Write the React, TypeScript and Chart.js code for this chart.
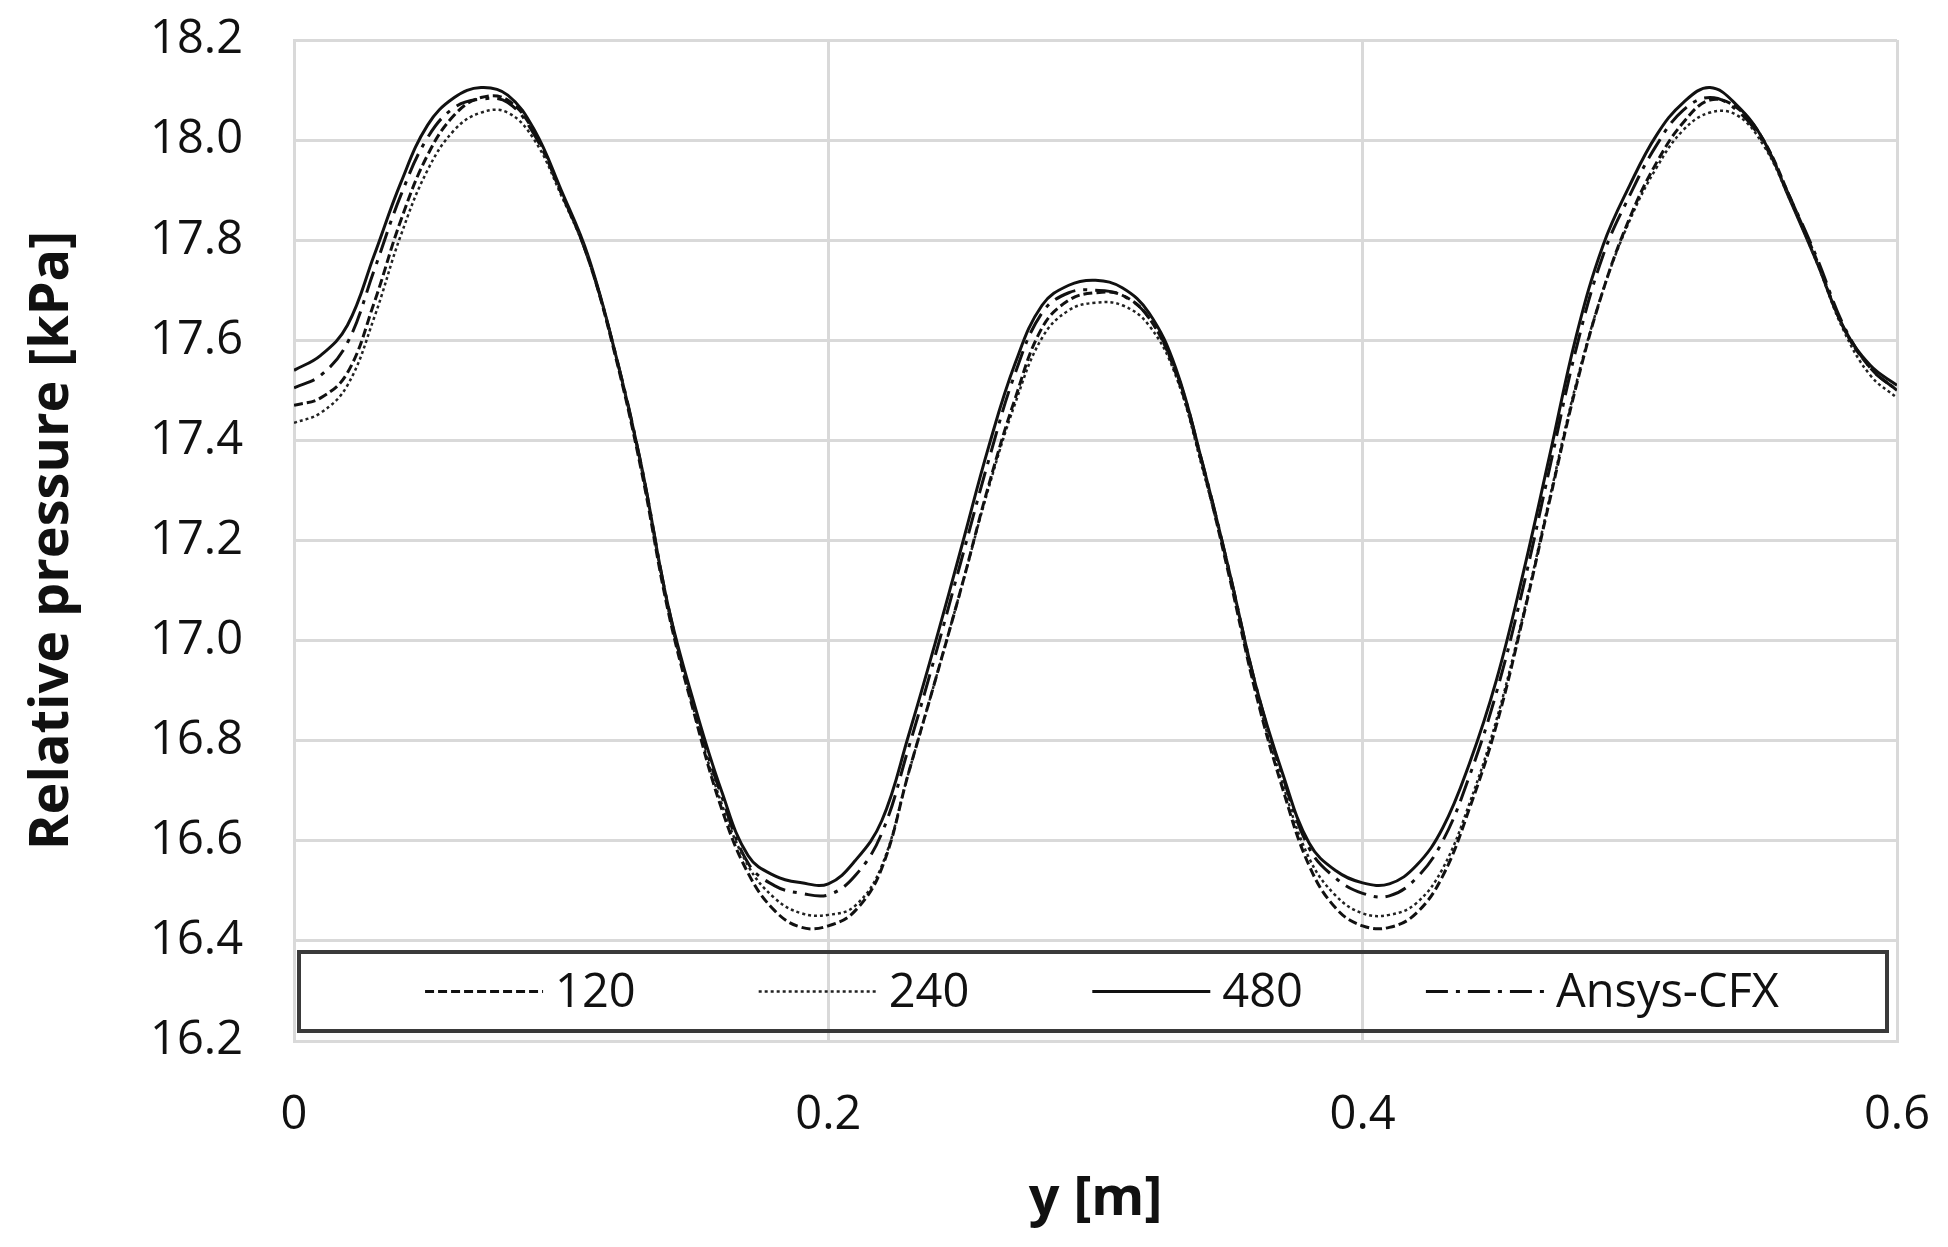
import React, { useEffect, useRef } from "react";
import { Chart, registerables } from "chart.js";

Chart.register(...registerables);

// position along the channel, y [m]
const positionY = [
	0.0, 0.01, 0.02, 0.03, 0.04, 0.05, 0.06, 0.07, 0.08, 0.09,
	0.1, 0.11, 0.12, 0.13, 0.14, 0.15, 0.16, 0.17, 0.18, 0.19,
	0.2, 0.21, 0.22, 0.23, 0.24, 0.25, 0.26, 0.27, 0.28, 0.29,
	0.3, 0.31, 0.32, 0.33, 0.34, 0.35, 0.36, 0.37, 0.38, 0.39,
	0.4, 0.41, 0.42, 0.43, 0.44, 0.45, 0.46, 0.47, 0.48, 0.49,
	0.5, 0.51, 0.52, 0.53, 0.54, 0.55, 0.56, 0.57, 0.58, 0.59,
	0.6,
];

// relative pressure [kPa] per mesh
const mesh120 = [
	17.47, 17.485, 17.535, 17.675, 17.84, 17.97, 18.05, 18.085, 18.08, 18.015,
	17.895, 17.765, 17.575, 17.34, 17.06, 16.85, 16.665, 16.535, 16.46, 16.427,
	16.43, 16.46, 16.545, 16.735, 16.92, 17.11, 17.31, 17.485, 17.625, 17.68,
	17.695, 17.69, 17.645, 17.535, 17.35, 17.13, 16.895, 16.705, 16.55, 16.465,
	16.43, 16.427, 16.455, 16.53, 16.665, 16.83, 17.045, 17.28, 17.51, 17.7,
	17.845, 17.955, 18.035, 18.08, 18.065, 18.0, 17.885, 17.76, 17.625, 17.545,
	17.5,
];

const mesh240 = [
	17.435, 17.455, 17.51, 17.645, 17.81, 17.94, 18.02, 18.055, 18.055, 18.0,
	17.89, 17.765, 17.58, 17.345, 17.065, 16.855, 16.675, 16.55, 16.485, 16.455,
	16.452, 16.47, 16.55, 16.735, 16.92, 17.11, 17.305, 17.475, 17.605, 17.66,
	17.675, 17.67, 17.63, 17.53, 17.345, 17.135, 16.9, 16.715, 16.565, 16.49,
	16.455, 16.452, 16.475, 16.545, 16.675, 16.84, 17.05, 17.285, 17.515, 17.7,
	17.84, 17.945, 18.02, 18.055, 18.05, 17.99, 17.88, 17.755, 17.62, 17.53,
	17.485,
];

const mesh480 = [
	17.54, 17.57, 17.63, 17.77, 17.915, 18.03, 18.085, 18.105, 18.09, 18.02,
	17.9, 17.77, 17.58, 17.35, 17.07, 16.87, 16.7, 16.57, 16.53, 16.516,
	16.514, 16.56, 16.64, 16.81, 16.995, 17.19, 17.387, 17.555, 17.67, 17.71,
	17.72, 17.705, 17.655, 17.545, 17.355, 17.14, 16.91, 16.735, 16.595, 16.54,
	16.516, 16.514, 16.55, 16.626, 16.755, 16.92, 17.133, 17.37, 17.61, 17.79,
	17.91, 18.01, 18.075, 18.105, 18.07, 18.0, 17.88, 17.756, 17.626, 17.55,
	17.51,
];

const ansysCfx = [
	17.505, 17.53, 17.595, 17.74, 17.89, 18.005, 18.065, 18.082, 18.075, 18.01,
	17.895, 17.765, 17.58, 17.35, 17.07, 16.86, 16.69, 16.555, 16.51, 16.495,
	16.492, 16.53, 16.615, 16.785, 16.97, 17.165, 17.36, 17.535, 17.655, 17.695,
	17.7, 17.69, 17.645, 17.54, 17.355, 17.14, 16.91, 16.73, 16.585, 16.525,
	16.495, 16.49, 16.525, 16.6, 16.73, 16.895, 17.105, 17.345, 17.585, 17.77,
	17.89, 17.99, 18.06, 18.085, 18.06, 17.995, 17.885, 17.765, 17.63, 17.545,
	17.5,
];

const seriesLabels = ["120", "240", "480", "Ansys-CFX"];
const yTicks = { min: 16.2, max: 18.2, step: 0.2 };
const xTicks = { min: 0, max: 0.6, step: 0.2 };

const FONT = "'Open Sans', 'DejaVu Sans', sans-serif";

const toPoints = (values: number[]) =>
	values.map((v, i) => ({ x: positionY[i], y: v }));

// Excel-style legend box sitting inside the bottom of the plot area
const legendBoxPlugin = {
	id: "legendBox",
	afterDraw(chart: any) {
		const { ctx, chartArea } = chart;
		const left = chartArea.left + 5;
		const right = chartArea.right - 10;
		const top = chartArea.bottom - 89;
		const bottom = chartArea.bottom - 10;

		ctx.save();
		ctx.strokeStyle = "#3a3a3a";
		ctx.lineWidth = 4;
		ctx.setLineDash([]);
		ctx.strokeRect(left, top, right - left, bottom - top);

		ctx.font = `47px ${FONT}`;
		const sample = 118;
		const gap = 12;
		const itemGap = 123;
		const datasets = chart.data.datasets;
		const widths = datasets.map(
			(ds: any) => sample + gap + ctx.measureText(ds.label).width
		);
		const total =
			widths.reduce((a: number, b: number) => a + b, 0) +
			itemGap * (datasets.length - 1);
		let x = (left + right) / 2 + 9 - total / 2;
		const y = (top + bottom) / 2;

		datasets.forEach((ds: any, i: number) => {
			ctx.beginPath();
			ctx.setLineDash(ds.borderDash || []);
			ctx.lineWidth = ds.borderWidth;
			ctx.strokeStyle = ds.borderColor;
			ctx.lineCap = "butt";
			ctx.moveTo(x, y);
			ctx.lineTo(x + sample, y);
			ctx.stroke();
			ctx.setLineDash([]);
			ctx.fillStyle = "#111111";
			ctx.textAlign = "left";
			ctx.textBaseline = "middle";
			ctx.fillText(ds.label, x + sample + gap, y + 2);
			x += widths[i] + itemGap;
		});
		ctx.restore();
	},
};

const PressureChart: React.FC = () => {
	const chartRef = useRef<HTMLCanvasElement>(null);
	const chartInstance = useRef<Chart | null>(null);

	useEffect(() => {
		if (!chartRef.current) return;
		if (chartInstance.current) chartInstance.current.destroy();

		const ctx = chartRef.current.getContext("2d");
		if (!ctx) return;

		chartInstance.current = new Chart(ctx, {
			type: "line",
			data: {
				datasets: [
					{
						label: seriesLabels[0],
						data: toPoints(mesh120),
						borderColor: "#111111",
						borderWidth: 3,
						borderDash: [9, 4],
					},
					{
						label: seriesLabels[1],
						data: toPoints(mesh240),
						borderColor: "#222222",
						borderWidth: 2.5,
						borderDash: [3, 3],
					},
					{
						label: seriesLabels[2],
						data: toPoints(mesh480),
						borderColor: "#111111",
						borderWidth: 3,
					},
					{
						label: seriesLabels[3],
						data: toPoints(ansysCfx),
						borderColor: "#111111",
						borderWidth: 3,
						borderDash: [22, 8, 4, 8],
					},
				],
			},
			options: {
				animation: false,
				responsive: true,
				maintainAspectRatio: false,
				devicePixelRatio: 1,
				layout: { padding: { left: 0, right: 51, top: 40, bottom: 0 } },
				elements: {
					point: { radius: 0 },
					line: { tension: 0.4, fill: false },
				},
				plugins: {
					legend: { display: false },
					tooltip: { enabled: false },
				},
				scales: {
					x: {
						type: "linear",
						min: xTicks.min,
						max: xTicks.max,
						afterFit: (scale: any) => {
							scale.height = 206;
							scale.paddingLeft = 20;
							scale.paddingRight = 40;
						},
						grid: { color: "#d9d9d9", lineWidth: 3, drawTicks: false },
						border: { display: true, color: "#d9d9d9", width: 3 },
						ticks: {
							stepSize: xTicks.step,
							padding: 46,
							color: "#111111",
							font: { family: FONT, size: 47 },
							callback: (v: any) => String(Math.round(Number(v) * 10) / 10),
						},
						title: {
							display: true,
							text: "y [m]",
							color: "#111111",
							font: { family: FONT, size: 54, weight: "bold" },
							padding: { top: 0, bottom: 15 },
						},
					},
					y: {
						type: "linear",
						min: yTicks.min,
						max: yTicks.max,
						afterFit: (scale: any) => {
							scale.width = 294;
							scale.paddingTop = 30;
							scale.paddingBottom = 30;
						},
						grid: { color: "#d9d9d9", lineWidth: 3, drawTicks: false },
						border: { display: true, color: "#d9d9d9", width: 3 },
						ticks: {
							stepSize: yTicks.step,
							padding: 51,
							color: "#111111",
							font: { family: FONT, size: 47 },
							callback: (v: any) => Number(v).toFixed(1),
						},
						title: {
							display: true,
							text: "Relative pressure [kPa]",
							color: "#111111",
							font: { family: FONT, size: 54, weight: "bold" },
							padding: { top: 20, bottom: 0 },
						},
					},
				},
			},
			plugins: [legendBoxPlugin],
		});

		return () => {
			if (chartInstance.current) {
				chartInstance.current.destroy();
				chartInstance.current = null;
			}
		};
	}, []);

	return (
		<div
			style={{
				position: "absolute",
				left: 0,
				top: 0,
				width: "1948px",
				height: "1247px",
				background: "#ffffff",
			}}
		>
			<canvas ref={chartRef}></canvas>
		</div>
	);
};

export default function App() {
	return <PressureChart />;
}
